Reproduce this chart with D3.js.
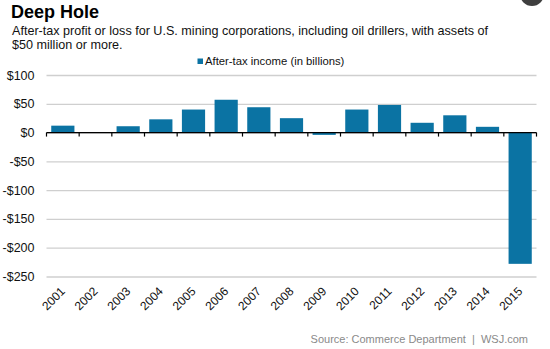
<!DOCTYPE html>
<html>
<head>
<meta charset="utf-8">
<script src="https://cdn.jsdelivr.net/npm/d3@7"></script>
<style>
  html, body { margin: 0; padding: 0; background: #fff; }
  svg { display: block; font-family: "Liberation Sans", Arial, sans-serif; }
</style>
</head>
<body>
<svg id="chart" width="550" height="349"></svg>
<script>
const years = ["2001","2002","2003","2004","2005","2006","2007","2008","2009","2010","2011","2012","2013","2014","2015"];
const income = [12, 1, 11, 23, 40, 57, 44, 25, -4, 40, 48, 17, 30, 10, -228];
const yTicks = [100, 50, 0, -50, -100, -150, -200, -250];
const titleText = "Deep Hole";
const subtitleLines = ["After-tax profit or loss for U.S. mining corporations, including oil drillers, with assets of", "$50 million or more."];
const legendLabel = "After-tax income (in billions)";
const sourceText = "Source: Commerce Department  |  WSJ.com";

const svg = d3.select("#chart");
const barColor = "#0b73a3";

const x = d3.scaleBand().domain(years).range([46.5, 536.5]).paddingInner(0.29).paddingOuter(0.145);
const y = d3.scaleLinear().domain([-250, 100]).range([276.5, 75]);

// decorative corner circle
svg.append("circle").attr("cx", 532).attr("cy", -6).attr("r", 12).attr("fill", "#3f3f3f");

// title
svg.append("text").attr("x", 11).attr("y", 18).attr("font-size", 18).attr("font-weight", "bold").attr("fill", "#000").text(titleText);
svg.selectAll("text.sub").data(subtitleLines).enter().append("text")
  .attr("class", "sub").attr("x", 12).attr("y", (d, i) => 35 + i * 14)
  .attr("font-size", 12.6).attr("fill", "#111").text(d => d);

// legend
svg.append("rect").attr("x", 197.5).attr("y", 58.5).attr("width", 5.5).attr("height", 5.5).attr("fill", barColor);
svg.append("text").attr("x", 205).attr("y", 65).attr("font-size", 11.3).attr("fill", "#111").text(legendLabel);

// gridlines & y labels
const yAxis = d3.axisLeft(y).tickValues(yTicks).tickSize(-(536.5 - 46.5))
  .tickFormat(d => (d < 0 ? "-$" : "$") + Math.abs(d));
const gy = svg.append("g").attr("transform", "translate(46.5,0)").call(yAxis);
gy.select(".domain").remove();
gy.selectAll(".tick line").attr("stroke", "#cfcfcf").attr("stroke-width", 1.3);
gy.selectAll(".tick text").attr("x", -12).attr("font-size", 12.5).attr("fill", "#111")
  .attr("font-family", "'Liberation Sans', Arial, sans-serif");

// bars
svg.selectAll("rect.bar").data(years).enter().append("rect")
  .attr("class", "bar")
  .attr("x", d => x(d))
  .attr("width", x.bandwidth())
  .attr("y", (d, i) => y(Math.max(0, income[i])))
  .attr("height", (d, i) => Math.abs(y(income[i]) - y(0)))
  .attr("fill", barColor);

// zero axis with ticks at band boundaries
const zeroY = y(0);
svg.append("line").attr("x1", 46.5).attr("x2", 536.5).attr("y1", zeroY).attr("y2", zeroY)
  .attr("stroke", "#000").attr("stroke-width", 1.2);
const step = x.step();
const boundaries = d3.range(years.length + 1).map(i => 46.5 + i * step);
svg.selectAll("line.tk").data(boundaries).enter().append("line")
  .attr("class", "tk").attr("x1", d => d).attr("x2", d => d)
  .attr("y1", zeroY).attr("y2", zeroY + 4).attr("stroke", "#000").attr("stroke-width", 1.2);

// x labels rotated
svg.selectAll("text.xl").data(years).enter().append("text")
  .attr("class", "xl")
  .attr("transform", d => `translate(${x(d) + x.bandwidth() / 2 + 3},${292}) rotate(-45)`)
  .attr("text-anchor", "end").attr("font-size", 12).attr("fill", "#111").text(d => d);

// source
svg.append("text").attr("x", 528).attr("y", 343).attr("text-anchor", "end")
  .style("white-space", "pre")
  .attr("font-size", 11).attr("fill", "#8a8a8a").text(sourceText);
</script>
</body>
</html>
